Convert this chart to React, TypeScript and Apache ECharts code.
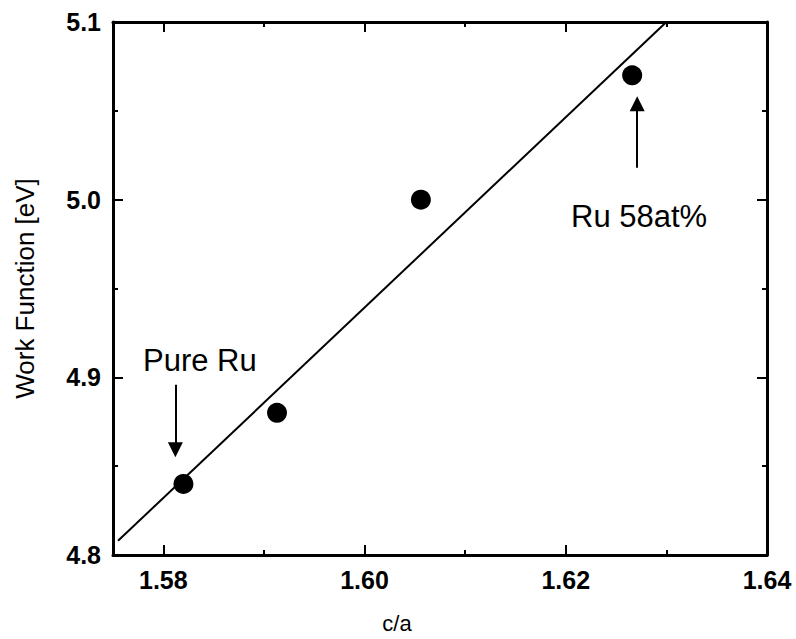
import React, { useEffect, useRef } from "react";
import * as echarts from "echarts";

const xMajorTicks = [1.58, 1.6, 1.62, 1.64];
const xMinorTicks = [1.59, 1.61, 1.63];
const caValues = [1.582, 1.5913, 1.6056, 1.6266];
const workFunction = [4.84, 4.88, 5.0, 5.07];
const fitCa = [1.5755, 1.63];
const fitWorkFunction = [4.808, 5.1];
const pureRuArrow = { ca: 1.5812, from: 4.8958, to: 4.8593 };
const ru58Arrow = { ca: 1.6271, from: 5.018, to: 5.054 };
const annotations = ["Pure Ru", "Ru 58at%"];
const xTitle = "c/a";
const yTitle = "Work Function [eV]";

const FONT = "'Liberation Sans', Arial, Helvetica, sans-serif";

const xAxisDef = (position: string, ticks: number[], len: number, showLine: boolean, showLabel: boolean) => ({
  type: "value",
  position,
  min: 1.575,
  max: 1.64,
  axisLine: { show: showLine, onZero: false, lineStyle: { color: "#000", width: 3 } },
  axisTick: { show: true, inside: true, length: len, customValues: ticks, lineStyle: { color: "#000", width: 2 } },
  axisLabel: {
    show: showLabel,
    customValues: ticks,
    margin: 12,
    formatter: (v: number) => v.toFixed(2),
    fontFamily: FONT,
    fontSize: 25,
    fontWeight: "bold",
    color: "#000",
  },
  splitLine: { show: false },
});

const yAxisDef = (position: string, showLabel: boolean) => ({
  type: "value",
  position,
  min: 4.8,
  max: 5.1,
  interval: 0.1,
  name: showLabel ? yTitle : "",
  nameLocation: "middle",
  nameGap: 75,
  nameTextStyle: { fontFamily: FONT, fontSize: 26, color: "#000" },
  axisLine: { show: true, onZero: false, lineStyle: { color: "#000", width: 3 } },
  axisTick: { show: true, inside: true, length: 10, lineStyle: { color: "#000", width: 2 } },
  minorTick: { show: true, splitNumber: 2, length: 5, lineStyle: { color: "#000", width: 2 } },
  axisLabel: {
    show: showLabel,
    margin: 12,
    formatter: (v: number) => v.toFixed(1),
    fontFamily: FONT,
    fontSize: 25,
    fontWeight: "bold",
    color: "#000",
  },
  splitLine: { show: false },
  minorSplitLine: { show: false },
});

export default function App() {
  const ref = useRef<HTMLDivElement>(null);
  useEffect(() => {
    if (!ref.current) return;
    const chart = echarts.init(ref.current, null, { renderer: "svg" });
    chart.setOption({
      animation: false,
      backgroundColor: "#fff",
      grid: { left: 113, right: 29, top: 22, bottom: 84 },
      xAxis: [
        xAxisDef("bottom", xMajorTicks, 10, true, true),
        xAxisDef("bottom", xMinorTicks, 5, false, false),
        xAxisDef("top", xMajorTicks, 10, true, false),
        xAxisDef("top", xMinorTicks, 5, false, false),
      ],
      yAxis: [yAxisDef("left", true), yAxisDef("right", false)],
      series: [
        {
          type: "line",
          data: fitCa.map((c, i) => [c, fitWorkFunction[i]]),
          symbol: "none",
          lineStyle: { color: "#000", width: 2 },
          silent: true,
          markLine: {
            silent: true,
            symbol: ["none", "triangle"],
            symbolSize: 15,
            label: { show: false },
            lineStyle: { color: "#000", width: 2, type: "solid" },
            data: [
              [{ coord: [pureRuArrow.ca, pureRuArrow.from] }, { coord: [pureRuArrow.ca, pureRuArrow.to] }],
              [{ coord: [ru58Arrow.ca, ru58Arrow.from] }, { coord: [ru58Arrow.ca, ru58Arrow.to] }],
            ],
          },
        },
        {
          type: "scatter",
          data: caValues.map((c, i) => [c, workFunction[i]]),
          symbol: "circle",
          symbolSize: 20,
          itemStyle: { color: "#000", opacity: 1 },
          z: 5,
        },
      ],
      graphic: [
        {
          type: "text",
          x: 143,
          y: 360,
          style: { text: annotations[0], font: `31px ${FONT}`, fill: "#000", verticalAlign: "middle" },
        },
        {
          type: "text",
          x: 571,
          y: 216,
          style: { text: annotations[1], font: `31px ${FONT}`, fill: "#000", verticalAlign: "middle" },
        },
        {
          type: "text",
          x: 397,
          y: 623,
          style: { text: xTitle, font: `22px ${FONT}`, fill: "#000", align: "center", verticalAlign: "middle" },
        },
      ],
    });
    return () => chart.dispose();
  }, []);
  return <div ref={ref} style={{ width: 796, height: 639, position: "absolute", left: 0, top: 0 }} />;
}
